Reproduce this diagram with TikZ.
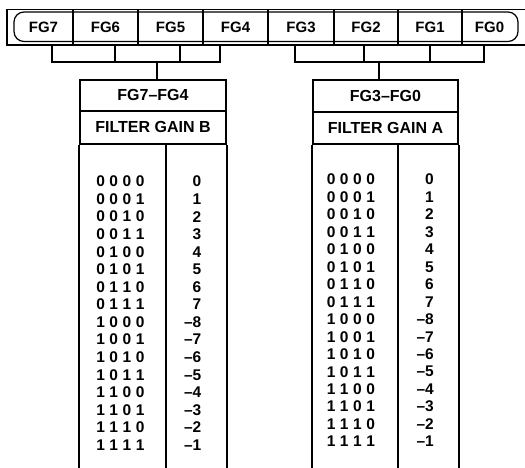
\documentclass[tikz,border=0pt]{standalone}
\usepackage{fontspec}
\setmainfont{Liberation Sans}
\begin{document}
\begin{tikzpicture}[x=1pt,y=-1pt,line width=1.5pt,
  regtext/.style={font=\fontsize{15}{15}\selectfont\bfseries,inner sep=0pt},
  hdr/.style={draw,line width=1.8pt,font=\fontsize{16}{16}\selectfont\bfseries,inner sep=0pt},
  cell/.style={font=\fontsize{15.5}{15.5}\selectfont\bfseries,inner sep=0pt},
  boxline/.style={line width=1.8pt}]
\useasboundingbox (0,0) rectangle (525,468);
% register
\draw (527,9.5) -- (7,9.5) -- (7,45) -- (527,45);
\draw[line width=1.2pt,rounded corners=10pt] (14,12) rectangle (518,41.5);
\foreach \x in {73,138,203,268,334,398,462} \draw (\x,9.5) -- (\x,45);
\node[regtext] (fg7) at (43.5,27) {FG7};
\node[regtext] (fg6) at (105.5,27) {FG6};
\node[regtext] (fg5) at (170.5,27) {FG5};
\node[regtext] (fg4) at (235.5,27) {FG4};
\node[regtext] (fg3) at (301,27) {FG3};
\node[regtext] (fg2) at (366,27) {FG2};
\node[regtext] (fg1) at (430,27) {FG1};
\node[regtext] (fg0) at (489.5,27) {FG0};
% header boxes
\node[hdr,minimum width=146pt,minimum height=30.7pt] (hB1) at (153,95.35) {FG7–FG4};
\node[hdr,minimum width=146pt,minimum height=33.3pt] (hB2) at (153,127.35) {FILTER GAIN B};
\node[hdr,minimum width=145pt,minimum height=31.7pt] (hA1) at (385.5,95.85) {FG3–FG0};
\node[hdr,minimum width=145pt,minimum height=32.3pt] (hA2) at (385.5,127.85) {FILTER GAIN A};
\coordinate (bB) at (0,468);
\draw[boxline] (hB2.south west) -- (hB2.south west |- bB);
\draw[boxline] (hB2.south east) -- (hB2.south east |- bB);
\coordinate (dB) at (166,144);
\draw[boxline] (dB) -- (dB |- bB);
\draw[boxline] (hA2.south west) -- (hA2.south west |- bB);
\draw[boxline] (hA2.south east) -- (hA2.south east |- bB);
\coordinate (dA) at (398,144);
\draw[boxline] (dA) -- (dA |- bB);
% brackets
\coordinate (b7) at (52,45);
\coordinate (b6) at (115,45);
\coordinate (b5) at (180,45);
\coordinate (b4) at (220,45);
\coordinate (jB) at (157,62);
\draw (b7) -- (b7 |- jB) -- (b4 |- jB) -- (b4);
\draw (b6) -- (b6 |- jB);
\draw (b5) -- (b5 |- jB);
\draw (jB) -- (jB |- hB1.north);
\coordinate (b3) at (295,45);
\coordinate (b2) at (364,45);
\coordinate (b1) at (430,45);
\coordinate (b0) at (484,45);
\coordinate (jA) at (379,62);
\draw (b3) -- (b3 |- jA) -- (b0 |- jA) -- (b0);
\draw (b2) -- (b2 |- jA);
\draw (b1) -- (b1 |- jA);
\draw (jA) -- (jA |- hA1.north);
% tables
\def\g{\hspace{4.6pt}}
\foreach \a/\b/\c/\d/\v [count=\i from 0] in
 {0/0/0/0/0,0/0/0/1/1,0/0/1/0/2,0/0/1/1/3,0/1/0/0/4,0/1/0/1/5,0/1/1/0/6,0/1/1/1/7,
  1/0/0/0/–8,1/0/0/1/–7,1/0/1/0/–6,1/0/1/1/–5,1/1/0/0/–4,1/1/0/1/–3,1/1/1/0/–2,1/1/1/1/–1}
 {
  \node[cell,anchor=west] (lb\i) at (95.5,181.5+17.57*\i) {\a\g\b\g\c\g\d};
  \node[cell,anchor=east] (lv\i) at (202,181.5+17.57*\i) {\v};
  \node[cell,anchor=west] (rb\i) at (326,179.5+17.47*\i) {\a\g\b\g\c\g\d};
  \node[cell,anchor=east] (rv\i) at (434.5,179.5+17.47*\i) {\v};
 }
\end{tikzpicture}
\end{document}
